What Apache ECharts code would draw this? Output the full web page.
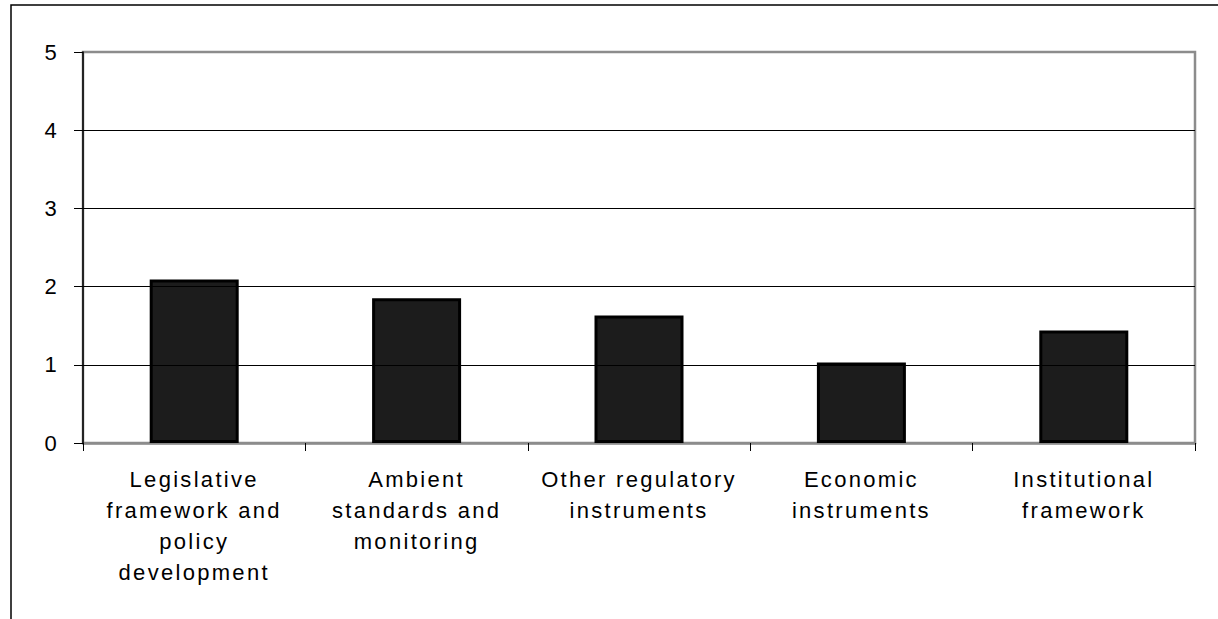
<!DOCTYPE html>
<html>
<head>
<meta charset="utf-8">
<script src="https://cdn.jsdelivr.net/npm/echarts@6/dist/echarts.min.js"></script>
<style>
  html, body { margin: 0; padding: 0; background: #fff; }
  #bar-container { width: 1218px; height: 619px; letter-spacing: 2.3px; }
</style>
</head>
<body>
<div id="bar-container"></div>
<script>
var categories = [
  'Legislative\nframework and\npolicy\ndevelopment',
  'Ambient\nstandards and\nmonitoring',
  'Other regulatory\ninstruments',
  'Economic\ninstruments',
  'Institutional\nframework'
];
var scores = [2.09, 1.85, 1.63, 1.03, 1.44];

var dom = document.getElementById('bar-container');
var myChart = echarts.init(dom, null, { renderer: 'svg' });

var font = '"Liberation Sans", Arial, sans-serif';

var option = {
  animation: false,
  backgroundColor: '#fff',
  // outer frame of the original chart (only left and top edges visible)
  graphic: [
    {
      type: 'rect',
      shape: { x: 11, y: 5, width: 1400, height: 800 },
      style: { fill: 'none', stroke: '#000', lineWidth: 1.5 },
      silent: true
    }
  ],
  grid: {
    left: 83,
    right: 23,
    top: 52,
    bottom: 176,
    show: true,
    borderColor: '#8c8c8c',
    borderWidth: 2.5,
    containLabel: false
  },
  xAxis: {
    type: 'category',
    data: categories,
    axisLine: { lineStyle: { color: '#8c8c8c', width: 2.5 } },
    axisTick: { show: true, length: 8, lineStyle: { color: '#000', width: 1 } },
    axisLabel: {
      color: '#000',
      fontFamily: font,
      fontSize: 22,
      lineHeight: 31,
      margin: 21,
      interval: 0
    }
  },
  yAxis: {
    type: 'value',
    min: 0,
    max: 5,
    interval: 1,
    z: 5,
    axisLine: { show: true, lineStyle: { color: '#000', width: 1.5 } },
    axisTick: { show: true, length: 9, lineStyle: { color: '#000', width: 1 } },
    axisLabel: {
      color: '#000',
      fontFamily: font,
      fontSize: 22,
      margin: 24
    },
    splitLine: {
      show: true,
      showMinLine: false,
      showMaxLine: false,
      lineStyle: { color: '#000', width: 1 }
    }
  },
  series: [
    {
      type: 'bar',
      data: scores,
      barWidth: 89,
      itemStyle: {
        color: '#1c1c1c',
        borderColor: '#000',
        borderWidth: 3
      }
    }
  ]
};

myChart.setOption(option);
window.addEventListener('resize', myChart.resize);
</script>
</body>
</html>
